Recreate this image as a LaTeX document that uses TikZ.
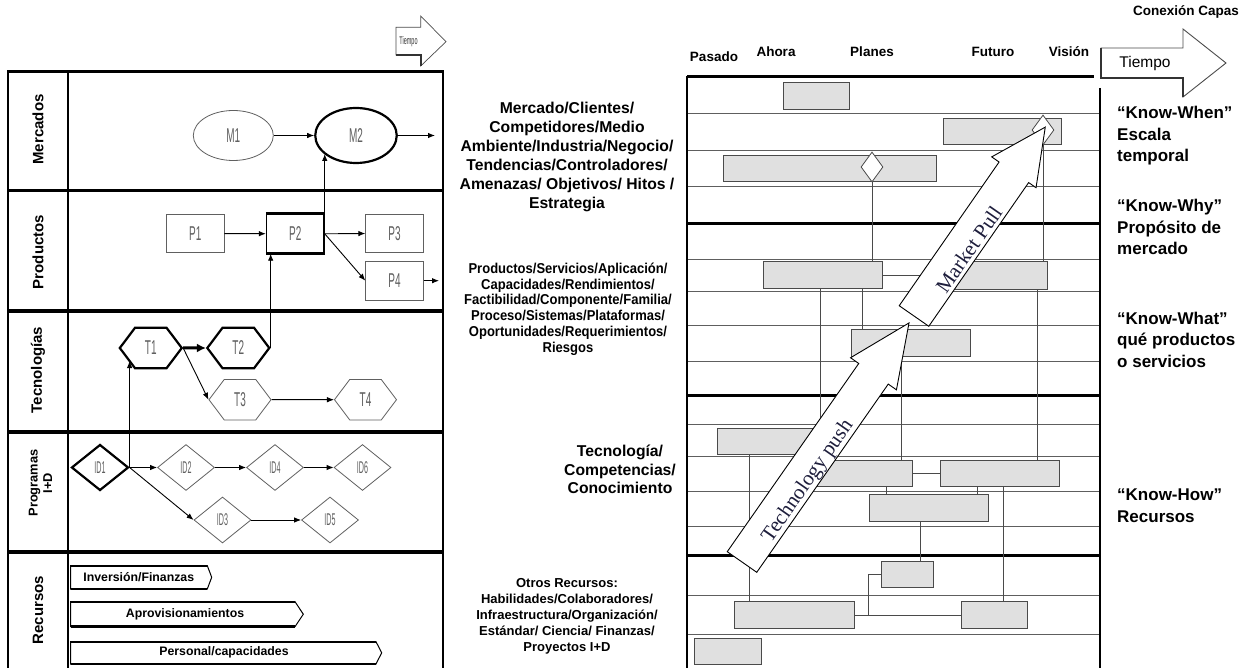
\documentclass[tikz,border=0pt]{standalone}
\usepackage{graphicx}
\usepackage{fontspec}
\setmainfont{Liberation Sans}
\newfontfamily\arrowserif{Liberation Serif}
\usetikzlibrary{shapes.geometric,shapes.symbols,arrows.meta,calc,fit}
\newcommand\squeezed[2]{\scalebox{#1}[1]{#2}}
\definecolor{gridgray}{HTML}{5E5E5E}
\definecolor{shapegray}{HTML}{606060}
\definecolor{barfill}{HTML}{E0E0E0}
\definecolor{barline}{HTML}{4A4A4A}
\definecolor{arrowink}{HTML}{1E1E3C}
\begin{document}
\begin{tikzpicture}[x=1pt,y=-1pt,
  lanerule/.style={line width=3.4pt},
  sidewall/.style={line width=2pt},
  rowlabel/.style={rotate=90,inner sep=0pt,font=\bfseries\fontsize{15}{16}\selectfont},
  shapetxt/.style={font=\fontsize{20}{20}\selectfont,text=shapegray},
  idtxt/.style={font=\fontsize{17}{17}\selectfont,text=shapegray},
  thinflow/.style={line width=0.9pt,-{Latex[length=7pt,width=5.5pt]}},
  heavyflow/.style={line width=3pt,-{Latex[length=9pt,width=9pt]}},
  lightline/.style={draw=shapegray,line width=0.8pt,fill=white,inner sep=0pt},
  heavyline/.style={draw=black,line width=2.2pt,fill=white,inner sep=0pt},
  prodbox/.style={rectangle,minimum width=57.5pt,minimum height=38.5pt},
  hexa/.style={signal,signal to=east and west,signal pointer angle=106,minimum width=62pt,minimum height=40.5pt},
  rhomb/.style={diamond,minimum width=57pt,minimum height=46pt},
  resbar/.style={draw=black,line width=1pt,fill=white},
  bartxt/.style={font=\bfseries\fontsize{12.3}{14}\selectfont,inner sep=0pt},
  midtxt/.style={align=center,inner sep=0pt,font=\bfseries\fontsize{15.7}{19}\selectfont},
  smalltxt/.style={align=center,inner sep=0pt,font=\bfseries\fontsize{13}{16}\selectfont},
  sidetxt/.style={anchor=west,align=left,inner sep=0pt,font=\bfseries\fontsize{17}{21.5}\selectfont},
  headtxt/.style={inner sep=0pt,font=\bfseries\fontsize{13.5}{15}\selectfont},
  gridline/.style={draw=gridgray,line width=0.9pt},
  gridrule/.style={draw=black,line width=3pt},
  gbox/.style={rectangle,draw=barline,fill=barfill,line width=0.9pt,inner sep=0pt},
  mstone/.style={diamond,draw=barline,fill=white,line width=0.8pt,inner sep=0pt,minimum width=22pt,minimum height=30pt},
  link/.style={draw=barline,line width=0.8pt},
  bigarrow/.style={draw=black,line width=0.9pt,fill=white,line join=miter},
  arrowtxt/.style={font=\arrowserif\fontsize{21}{21}\selectfont,text=arrowink,inner sep=0pt},
]
\fill[white] (0,0) rectangle (1254,668);
\useasboundingbox (0,0) rectangle (1254,668);

% ---------------- left panel: layered roadmap ----------------
\draw[sidewall] (8,71.5) -- (8,668);
\draw[sidewall] (68,71.5) -- (68,668);
\draw[sidewall] (443,71.5) -- (443,668);
\foreach \yy in {71.5,190.5,311,432,552} \draw[lanerule] (7,\yy) -- (444,\yy);

\node[rowlabel] (lmer) at (38,129.5) {Mercados};
\node[rowlabel] (lpro) at (38,252) {Productos};
\node[rowlabel] (ltec) at (38,370) {Tecnologías};
\node[rowlabel,align=center,font=\bfseries\fontsize{12.8}{14.5}\selectfont] (lprg) at (40.5,483) {Programas\\I+D};
\node[rowlabel] (lrec) at (38,610) {Recursos};

% small time arrow
\draw[draw=gray!60!black,line width=0.7pt,fill=white] (396,27.3) -- (420.7,27.3) -- (420.7,16) -- (446,41.7) -- (420.7,66) -- (420.7,55) -- (396,55) -- cycle;
\draw[gray!40!black,line width=1.8pt] (396,55) -- (420.7,55) -- (420.7,66);
\node[font=\fontsize{11}{11}\selectfont,text=gray!40!black,inner sep=0pt] (tsmall) at (408.5,41.5) {\squeezed{0.5}{Tiempo}};

% markets
\node[lightline,ellipse,minimum width=80pt,minimum height=50pt,shapetxt] (M1) at (233.3,135.5) {\squeezed{0.5}{M1}};
\node[heavyline,ellipse,minimum width=81.5pt,minimum height=55pt,shapetxt] (M2) at (356,135.5) {\squeezed{0.5}{M2}};
\coordinate (m2out) at (435,135.5);
\draw[thinflow] (M1) -- (M2);
\draw[thinflow] (M2) -- (m2out);

% products
\node[lightline,prodbox,shapetxt] (P1) at (195.3,233.5) {\squeezed{0.5}{P1}};
\node[prodbox,draw=black,line width=1.4pt,fill=white,inner sep=0pt,shapetxt] (P2) at (295.3,233.8) {\squeezed{0.5}{P2}};
\draw[line width=3pt] (P2.north west) -- (P2.north east);
\draw[line width=3pt] (P2.south west) -- (P2.south east);
\node[lightline,prodbox,shapetxt] (P3) at (394.5,233.5) {\squeezed{0.5}{P3}};
\node[lightline,prodbox,shapetxt] (P4) at (394.5,280.7) {\squeezed{0.5}{P4}};
\coordinate (p4out) at (439,280.7);
\draw[thinflow] (P1) -- (P2);
\draw[thinflow] (P2.east) -- (P3.west);
\draw[thinflow] (P2.east) -- (P4.west);
\draw[thinflow] (P4) -- (p4out);
\draw[thinflow] (P2.north east) -- (P2.north east |- M2.-150);

% technologies
\node[heavyline,hexa,shapetxt] (T1) at (150.8,348) {\squeezed{0.5}{T1}};
\node[heavyline,hexa,shapetxt] (T2) at (238.3,348) {\squeezed{0.5}{T2}};
\node[lightline,hexa,shapetxt] (T3) at (240,399.7) {\squeezed{0.5}{T3}};
\node[lightline,hexa,shapetxt] (T4) at (365.5,399.7) {\squeezed{0.5}{T4}};
\draw[heavyflow] (T1) -- (T2);
\draw[thinflow] (T1.east) -- (T3.west);
\draw[thinflow] (T3) -- (T4);
\draw[thinflow] (T2.east) -- (T2.east |- P2.south);

% R&D programmes
\node[heavyline,rhomb,idtxt] (ID1) at (100,467.5) {\squeezed{0.42}{ID1}};
\node[lightline,rhomb,idtxt] (ID2) at (186,467.5) {\squeezed{0.42}{ID2}};
\node[lightline,rhomb,idtxt] (ID4) at (275,467.5) {\squeezed{0.42}{ID4}};
\node[lightline,rhomb,idtxt] (ID6) at (362.5,467.5) {\squeezed{0.42}{ID6}};
\node[lightline,rhomb,idtxt] (ID3) at (222.5,520) {\squeezed{0.42}{ID3}};
\node[lightline,rhomb,idtxt] (ID5) at (330,520) {\squeezed{0.42}{ID5}};
\draw[thinflow] (ID1) -- (ID2);
\draw[thinflow] (ID2) -- (ID4);
\draw[thinflow] (ID4) -- (ID6);
\draw[thinflow] (ID1.east) -- (ID3.west);
\draw[thinflow] (ID3) -- (ID5);
\draw[thinflow] (ID1.east) -- (ID1.east |- T1.-150);

% resources
\draw[resbar] (70.7,565.7) -- (207.3,565.7) -- (211.7,577.3) -- (207.3,589) -- (70.7,589) -- cycle;
\draw[line width=1.8pt] (70.7,565.7) -- (207.3,565.7);
\draw[line width=2.8pt] (70.7,589) -- (207.3,589);
\node[bartxt] (rinv) at (138.8,577.3) {Inversión/Finanzas};
\draw[resbar] (70.7,601.7) -- (295,601.7) -- (303.3,614.2) -- (295,626.7) -- (70.7,626.7) -- cycle;
\draw[line width=1.8pt] (70.7,601.7) -- (295,601.7);
\draw[line width=2.8pt] (70.7,626.7) -- (295,626.7);
\node[bartxt] (rapr) at (185,614.2) {Aprovisionamientos};
\draw[resbar] (70.7,641.7) -- (376,641.7) -- (381.7,652.8) -- (376,664) -- (70.7,664) -- cycle;
\draw[line width=1.8pt] (70.7,641.7) -- (376,641.7);
\draw[line width=2.8pt] (70.7,664) -- (376,664);
\node[bartxt] (rper) at (224,652.8) {Personal/capacidades};

% ---------------- middle descriptions ----------------
\node[midtxt] (dmkt) at (567,156.7) {Mercado/Clientes/\\Competidores/Medio\\Ambiente/Industria/Negocio/\\Tendencias/Controladores/\\Amenazas/ Objetivos/ Hitos /\\Estrategia};
\node[align=center,inner sep=0pt,font=\bfseries\fontsize{14.3}{15.8}\selectfont,xscale=0.91] (dprd) at (568,309) {Productos/Servicios/Aplicación/\\Capacidades/Rendimientos/\\Factibilidad/Componente/Familia/\\Proceso/Sistemas/Plataformas/\\Oportunidades/Requerimientos/\\Riesgos};
\node[midtxt,font=\bfseries\fontsize{15.7}{18.8}\selectfont] (dtec) at (620,469.5) {Tecnología/\\Competencias/\\Conocimiento};
\node[smalltxt] (dres) at (567,616) {Otros Recursos:\\Habilidades/Colaboradores/\\Infraestructura/Organización/\\Estándar/ Ciencia/ Finanzas/\\Proyectos I+D};

% ---------------- right panel: time-based roadmap ----------------
\foreach \yy in {113.3,150,186,259.3,291,325.7,361,424.3,456,491,526,595,634.3}
  \draw[gridline] (687,\yy) -- (1100,\yy);
\foreach \yy in {224,395.7,555.3}
  \draw[gridrule] (687,\yy) -- (1100,\yy);
\draw[gridrule] (687,77) -- (1094,77);
\draw[line width=2.6pt] (687,76) -- (687,668);
\draw[line width=2.4pt] (1100,88) -- (1100,668);

\node[headtxt] (hpas) at (714,57) {Pasado};
\node[headtxt] (hnow) at (776,52) {Ahora};
\node[headtxt] (hpla) at (872,52) {Planes};
\node[headtxt] (hfut) at (993,52) {Futuro};
\node[headtxt] (hvis) at (1069,52) {Visión};
\node[headtxt] (hcap) at (1186,12) {Conexión Capas};

% large time arrow
\draw[draw=gray!60!black,line width=0.9pt,fill=white] (1101,48) -- (1183,48) -- (1183,29) -- (1226,63) -- (1183,97) -- (1183,78) -- (1101,78) -- cycle;
\draw[gray!40!black,line width=2pt] (1101,48) -- (1101,78) -- (1183,78) -- (1183,97);
\node[font=\fontsize{15.5}{15.5}\selectfont,inner sep=0pt] (tbig) at (1145,63) {Tiempo};

% bars
\node[gbox,fit={(783,82) (849,109)}] (B1) {};
\node[gbox,fit={(943.3,118.3) (1061.7,144.3)}] (B2) {};
\node[gbox,fit={(723.3,155.7) (936.7,181.7)}] (B3) {};
\node[gbox,fit={(763.3,261.7) (882.3,288.3)}] (B4) {};
\node[gbox,fit={(936,261.7) (1047.7,289)}] (B5) {};
\node[gbox,fit={(851.7,329.3) (970,356.7)}] (B6) {};
\node[gbox,fit={(717.6,428.3) (815,454)}] (B7) {};
\node[gbox,fit={(800,460.7) (912,486.7)}] (B8) {};
\node[gbox,fit={(940.7,460.7) (1059.3,486.7)}] (B9) {};
\node[gbox,fit={(869,494.3) (988.4,521)}] (B10) {};
\node[gbox,fit={(881,561) (933.6,587.7)}] (B11) {};
\node[gbox,fit={(734,601.7) (854.5,628.3)}] (B12) {};
\node[gbox,fit={(961,601.7) (1027.4,628.3)}] (B13) {};
\node[gbox,fit={(694.6,638.3) (761.4,664.3)}] (B14) {};
\node[mstone] (D1) at (1043,130) {};
\node[mstone] (D2) at (872,167) {};

% links between bars
\draw[link] (D2.south) -- (D2.south |- B4.north);
\draw[link] (D1.south) -- (D1.south |- B5.north);
\draw[link] (B4.east) -- (B4.east -| B5.west);
\draw[link] ([xshift=57.4pt]B4.south west) -- ([xshift=57.4pt]B4.south west |- B8.north);
\draw[link] ([xshift=100pt]B4.south west) -- ([xshift=100pt]B4.south west |- B6.north);
\draw[link] ([xshift=102.3pt]B5.south west) -- ([xshift=102.3pt]B5.south west |- B9.north);
\draw[link] ([xshift=50.6pt]B6.south west) -- ([xshift=50.6pt]B6.south west |- B8.north);
\draw[link] ([xshift=32.4pt]B7.south west) -- ([xshift=32.4pt]B7.south west |- B12.north);
\draw[link] (B8.east) -- (B8.east -| B9.west);
\draw[link] ([xshift=87pt]B8.south west) -- ([xshift=87pt]B8.south west |- B10.north);
\draw[link] ([xshift=37.3pt]B9.south west) -- ([xshift=37.3pt]B9.south west |- B10.north);
\draw[link] ([xshift=63.3pt]B9.south west) -- ([xshift=63.3pt]B9.south west |- B13.north);
\draw[link] ([xshift=52pt]B10.south west) -- ([xshift=52pt]B10.south west |- B11.north);
\draw[link] (B11.west) -| ([xshift=13.5pt]B12.east);
\draw[link] (B12.east) -- (B13.west);

% push and pull arrows
\begin{scope}[shift={(914,316)},rotate=55.2]
  \draw[bigarrow] (0,-18) -- (175,-18) -- (175,-27) -- (230,0) -- (175,27) -- (175,18) -- (0,18) -- cycle;
  \node[arrowtxt,rotate=55.2] (mpull) at (86,7) {Market Pull};
\end{scope}
\begin{scope}[shift={(742,562)},rotate=55.06]
  \draw[bigarrow] (0,-18) -- (229.6,-18) -- (229.6,-28) -- (291.6,0) -- (229.6,28) -- (229.6,18) -- (0,18) -- cycle;
  \node[arrowtxt,rotate=55.06] (tpush) at (104,8) {Technology push};
\end{scope}

% ---------------- right-hand notes ----------------
\node[sidetxt] (kwhen) at (1117,136) {“Know-When”\\Escala\\temporal};
\node[sidetxt] (kwhy) at (1117,227) {“Know-Why”\\Propósito de\\mercado};
\node[sidetxt] (kwhat) at (1117,339.7) {“Know-What”\\qué productos\\o servicios};
\node[sidetxt] (khow) at (1117,505.5) {“Know-How”\\Recursos};
\end{tikzpicture}
\end{document}
